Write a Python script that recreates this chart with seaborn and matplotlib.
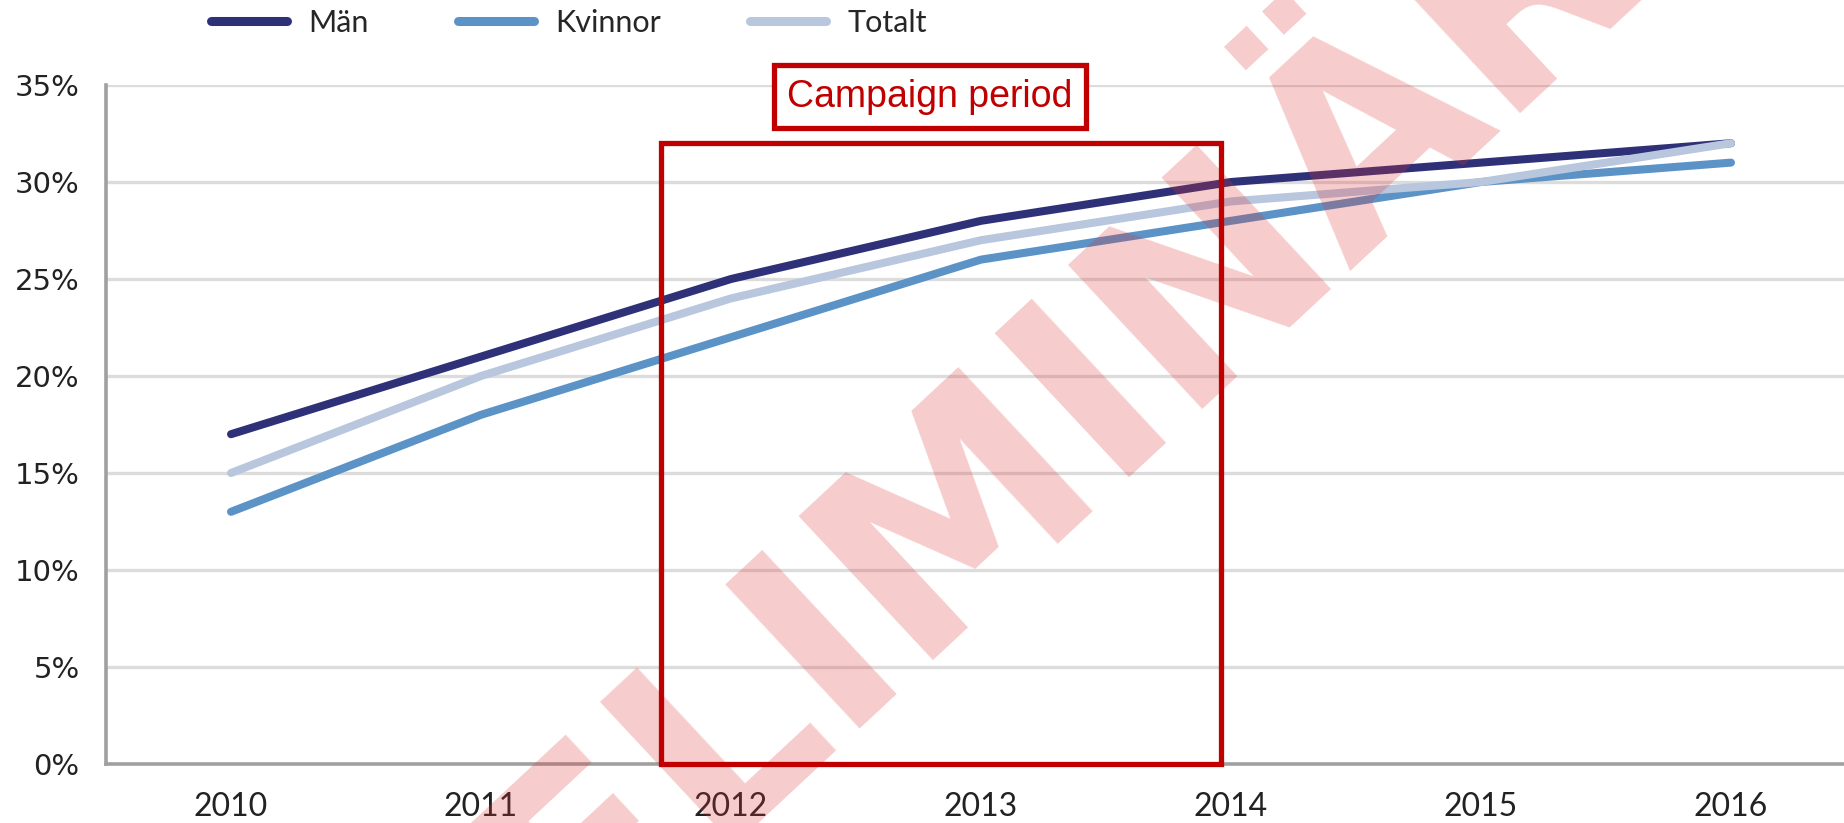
import numpy as np
import pandas as pd
import matplotlib
matplotlib.use('Agg')
import matplotlib.pyplot as plt
import matplotlib.patches as patches
from matplotlib.lines import Line2D
from matplotlib.ticker import PercentFormatter
import seaborn as sns

# data (andel i procent)
years = ['2010', '2011', '2012', '2013', '2014', '2015', '2016']
man = [17, 21, 25, 28, 30, 31, 32]
kvinnor = [13, 18, 22, 26, 28, 30, 31]
totalt = [15, 20, 24, 27, 29, 30, 32]
groups = ['Män', 'Kvinnor', 'Totalt']
colors = ['#2e3178', '#5b93c7', '#b8c6de']

campaign_start = 1.72
campaign_end = 3.96
campaign_top = 0.32

df = pd.DataFrame({
    'År': years * 3,
    'Andel': np.array(man + kvinnor + totalt) / 100,
    'Grupp': [groups[0]] * 7 + [groups[1]] * 7 + [groups[2]] * 7,
})

sns.set_theme(style='white')
plt.rcParams['font.family'] = ['Lato', 'DejaVu Sans']

fig = plt.figure(figsize=(18.44, 8.23), dpi=100)
ax = fig.add_axes([0.0575, 0.0717, 0.949, 0.825])

sns.lineplot(data=df, x='År', y='Andel', hue='Grupp', hue_order=groups,
             palette=colors, lw=5.8, solid_capstyle='round', legend=False,
             sort=False, ax=ax)

ax.set_xlim(-0.5, 6.5)
ax.set_ylim(0, 0.35)
ax.set_yticks(np.arange(0, 0.351, 0.05))
ax.yaxis.set_major_formatter(PercentFormatter(1.0, decimals=0))
ax.set_xlabel('')
ax.set_ylabel('')

ax.yaxis.grid(True, color='#dcdcdc', lw=2.4)
ax.set_axisbelow(True)
for s in ['top', 'right']:
    ax.spines[s].set_visible(False)
for s in ['left', 'bottom']:
    ax.spines[s].set_color('#a0a0a0')
    ax.spines[s].set_linewidth(2.6)

ax.set_xticks(np.arange(-0.5, 7, 1), minor=True)
ax.tick_params(axis='x', which='major', length=0, pad=20, labelsize=23,
               labelcolor='#222222')
ax.tick_params(axis='x', which='minor', length=8, width=2, color='#a0a0a0',
               direction='out')
ax.tick_params(axis='y', length=8, width=2, color='#a0a0a0', direction='out',
               pad=11, labelsize=21, labelcolor='#222222')
for lab in ax.get_yticklabels():
    lab.set_family('DejaVu Sans')

# kampanjperiod
rect = patches.Rectangle((campaign_start, 0), campaign_end - campaign_start,
                         campaign_top, fill=False, ec='#c00000', lw=3.8,
                         zorder=6, clip_on=False)
ax.add_patch(rect)
ax.text(2.796, 0.344, 'Campaign period', ha='center', va='center',
        fontsize=27, color='#c00000', family='Liberation Sans', zorder=7,
        clip_on=False,
        bbox=dict(boxstyle='square,pad=0.36', fc='white', ec='#c00000', lw=3.8))

# vattenstämpel
ax.text(912 / 1844, 1 - 554 / 823, 'PRELIMINÄR', transform=fig.transFigure,
        rotation=43, fontsize=194, fontweight='bold', color='#dd3333',
        alpha=0.25, ha='center', va='center', zorder=5, family='DejaVu Sans',
        rotation_mode='anchor')

handles = [Line2D([0], [0], color=c, lw=6.5, solid_capstyle='round') for c in colors]
fig.legend(handles, groups, loc='center left', bbox_to_anchor=(0.106, 0.972),
           ncol=3, frameon=False, fontsize=22, handlelength=2.5,
           handletextpad=0.7, columnspacing=2.9, borderpad=0)

fig.savefig('out.png', dpi=100)
